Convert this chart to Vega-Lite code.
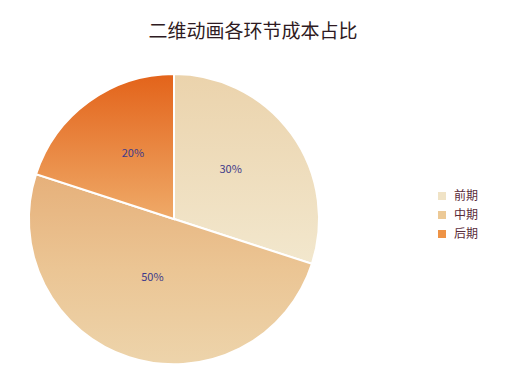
{
  "$schema": "https://vega.github.io/schema/vega-lite/v6.json",
  "autosize": {"type": "none"},
  "width": 348,
  "height": 290,
  "padding": {"left": 0, "top": 74, "right": 158, "bottom": 23},
  "background": "white",
  "title": {
    "text": "二维动画各环节成本占比",
    "font": "Noto Sans CJK SC",
    "fontSize": 19,
    "fontWeight": "normal",
    "color": "#2E1A22",
    "anchor": "middle",
    "frame": "group",
    "dx": 79,
    "offset": 28
  },
  "data": {
    "values": [
      {"stage": "前期", "value": 30, "label": "30%", "seq": 1},
      {"stage": "中期", "value": 50, "label": "50%", "seq": 2},
      {"stage": "后期", "value": 20, "label": "20%", "seq": 3}
    ]
  },
  "encoding": {
    "theta": {"field": "value", "type": "quantitative", "stack": true},
    "order": {"field": "seq", "type": "quantitative"}
  },
  "layer": [
    {
      "mark": {"type": "arc", "stroke": "white", "strokeWidth": 2},
      "encoding": {
        "color": {
          "condition": [
            {"test": "datum.stage === '前期'", "value": {"gradient": "linear", "x1": 0, "y1": 0, "x2": 0, "y2": 1, "stops": [{"offset": 0, "color": "#EBD3AC"}, {"offset": 1, "color": "#F2E7CD"}]}},
            {"test": "datum.stage === '中期'", "value": {"gradient": "linear", "x1": 0, "y1": 0, "x2": 0, "y2": 1, "stops": [{"offset": 0, "color": "#E6B07A"}, {"offset": 0.5, "color": "#EBC594"}, {"offset": 1, "color": "#EDD4AB"}]}},
            {"test": "datum.stage === '后期'", "value": {"gradient": "linear", "x1": 0, "y1": 0, "x2": 0, "y2": 1, "stops": [{"offset": 0, "color": "#E3631A"}, {"offset": 1, "color": "#EFAA68"}]}}
          ],
          "field": "stage",
          "type": "nominal",
          "sort": ["前期", "中期", "后期"],
          "scale": {"domain": ["前期", "中期", "后期"], "range": ["#F0E3C6", "#ECC996", "#EE9346"]},
          "legend": {
            "title": null,
            "orient": "none",
            "legendX": 436,
            "legendY": 116,
            "symbolType": "square",
            "symbolSize": 64,
            "symbolStrokeWidth": 0,
            "labelFont": "Noto Sans CJK SC",
            "labelFontSize": 12,
            "labelColor": "#5A2A38",
            "rowPadding": 7,
            "labelOffset": 6
          }
        }
      }
    },
    {
      "mark": {"type": "text", "radius": 70, "dy": -8, "font": "Noto Sans CJK SC", "fontSize": 11, "color": "#3E3A8A"},
      "encoding": {
        "text": {"field": "label", "type": "nominal"}
      }
    }
  ]
}
